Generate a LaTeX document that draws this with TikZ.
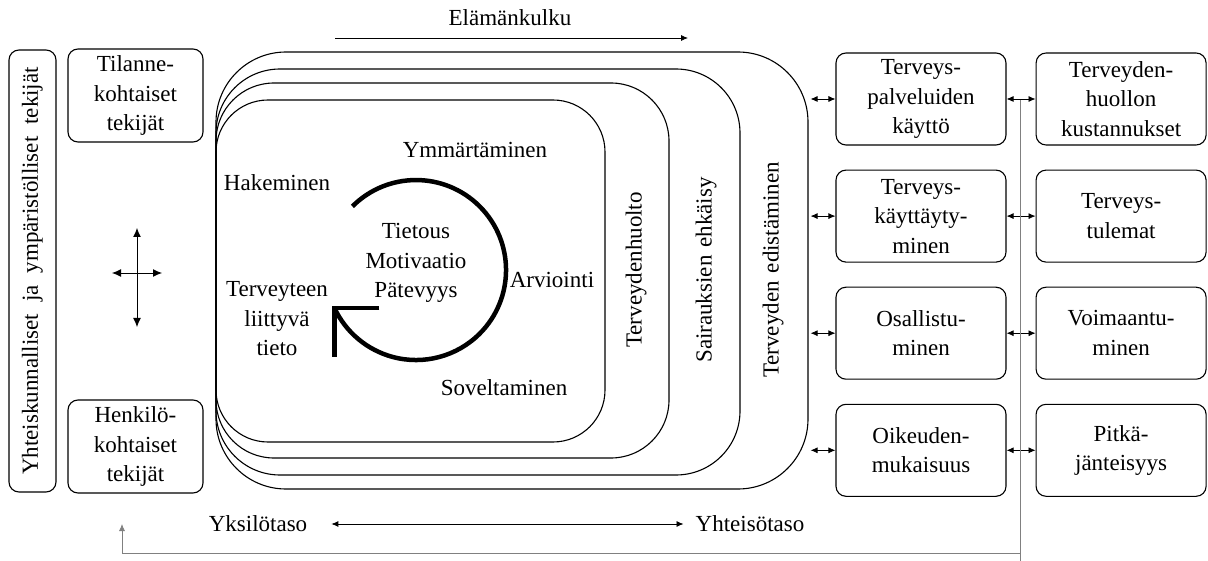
\documentclass[tikz,border=0pt]{standalone}
\usepackage{fontspec}
\setmainfont{Liberation Serif}[Ligatures=TeX]
\usetikzlibrary{positioning,arrows.meta}

\tikzset{
  factorbox/.style={draw, line width=1.1pt, rounded corners=10pt, align=center, inner sep=0pt},
  outcome/.style={factorbox, minimum width=170pt, minimum height=92pt},
  layer/.style={draw, line width=1.1pt},
  word/.style={inner sep=0pt, align=center},
  twoway/.style={{Latex[length=7pt,width=6pt]}-{Latex[length=7pt,width=6pt]}, line width=0.8pt},
  oneway/.style={-{Latex[length=7pt,width=6pt]}, line width=0.8pt},
  crossarrow/.style={{Latex[length=9pt,width=8pt]}-{Latex[length=9pt,width=8pt]}, line width=0.9pt},
  cycle/.style={line width=4.5pt},
  feedback/.style={draw=gray, line width=0.8pt, -{Latex[length=7pt,width=6pt]}}
}

\begin{document}
\begin{tikzpicture}[x=1pt, y=-1pt, font=\rmfamily\fontsize{23}{29.5}\selectfont]
\useasboundingbox (0,0) rectangle (1208,561);

% life course
\node[word] (life) at (510,18) {Elämänkulku};
\coordinate (lifestart) at (335,38);
\coordinate (lifeend) at (688,38);
\draw[oneway] (lifestart) -- (lifeend);

% left side factors
\node[factorbox, rotate=90, minimum width=442pt, minimum height=47pt] (society) at (32.5,271)
  {Yhteiskunnalliset\hspace{12pt}ja\hspace{12pt}ympäristölliset\hspace{12pt}tekijät};
\node[factorbox, minimum width=135pt, minimum height=93pt] (situ) at (135.5,95.5) {Tilanne-\\kohtaiset\\tekijät};
\node[factorbox, minimum width=135pt, minimum height=93pt] (person) at (135.5,446.5) {Henkilö-\\kohtaiset\\tekijät};

\coordinate (crosstop) at (137,228);
\coordinate (crossbottom) at (137,327);
\coordinate (crossleft) at (112,273);
\coordinate (crossright) at (162,273);
\draw[crossarrow] (crosstop) -- (crossbottom);
\draw[crossarrow] (crossleft) -- (crossright);

% nested layers
\node[layer, rounded corners=70pt, minimum width=592pt, minimum height=437pt] (promo) at (512,270.5) {};
\draw[layer, rounded corners=64pt] (216,69) rectangle (740,475);
\draw[layer, rounded corners=58pt] (216,83) rectangle (669,458);
\draw[layer, rounded corners=52pt] (216,100) rectangle (605,442);

\node[word, rotate=90] (carelabel) at (636,270) {Terveydenhuolto};
\node[word, rotate=90] (preventlabel) at (706,270) {Sairauksien\hspace{8pt}ehkäisy};
\node[word, rotate=90] (promolabel) at (773,270) {Terveyden\hspace{8pt}edistäminen};

% health literacy cycle
\node[word] (seek) at (277,183) {Hakeminen};
\node[word] (understand) at (475,150) {Ymmärtäminen};
\node[word] (appraise) at (552,280) {Arviointi};
\node[word] (apply) at (504,388) {Soveltaminen};
\node[word] (info) at (277,319) {Terveyteen\\liittyvä\\tieto};
\node[word] (core) at (416,263) {Tietous\\Motivaatio\\Pätevyys};

\draw[cycle] (352.4,206.4) arc[start angle=135, end angle=-155, radius=90pt] coordinate (cyclend);
\draw[cycle, line join=miter] ([xshift=45pt]cyclend) -- (cyclend) -- ([yshift=-49pt]cyclend);

% outcomes
\node[outcome] (use) at (921,99) {Terveys-\\palveluiden\\käyttö};
\node[outcome, below=24pt of use] (behave) {Terveys-\\käyttäyty-\\minen};
\node[outcome, below=24pt of behave] (partic) {Osallistu-\\minen};
\node[outcome, below=24pt of partic] (equity) {Oikeuden-\\mukaisuus};

\node[outcome, right=29pt of use] (cost) {Terveyden-\\huollon\\kustannukset};
\node[outcome, right=29pt of behave] (result) {Terveys-\\tulemat};
\node[outcome, right=29pt of partic] (empower) {Voimaantu-\\minen};
\node[outcome, right=29pt of equity] (sustain) {Pitkä-\\jänteisyys};

\foreach \a/\b in {use/cost, behave/result, partic/empower, equity/sustain} {
  \draw[twoway] ([xshift=2pt]promo.east |- \a) -- (\a);
  \draw[twoway] (\a) -- (\b);
}

% feedback loop
\coordinate (feedtop) at (1020.5,100);
\coordinate (feedbottom) at (1020.5,561);
\coordinate (feedend) at (122,524);
\draw[draw=gray, line width=0.8pt] (feedtop) -- (feedbottom);
\draw[feedback] (feedtop) -- ++(0,453) -| (feedend);

% levels
\node[word] (indiv) at (258,524) {Yksilötaso};
\node[word] (commun) at (750,524) {Yhteisötaso};
\draw[twoway, shorten <=24pt, shorten >=12pt] (indiv) -- (commun);

\end{tikzpicture}
\end{document}
